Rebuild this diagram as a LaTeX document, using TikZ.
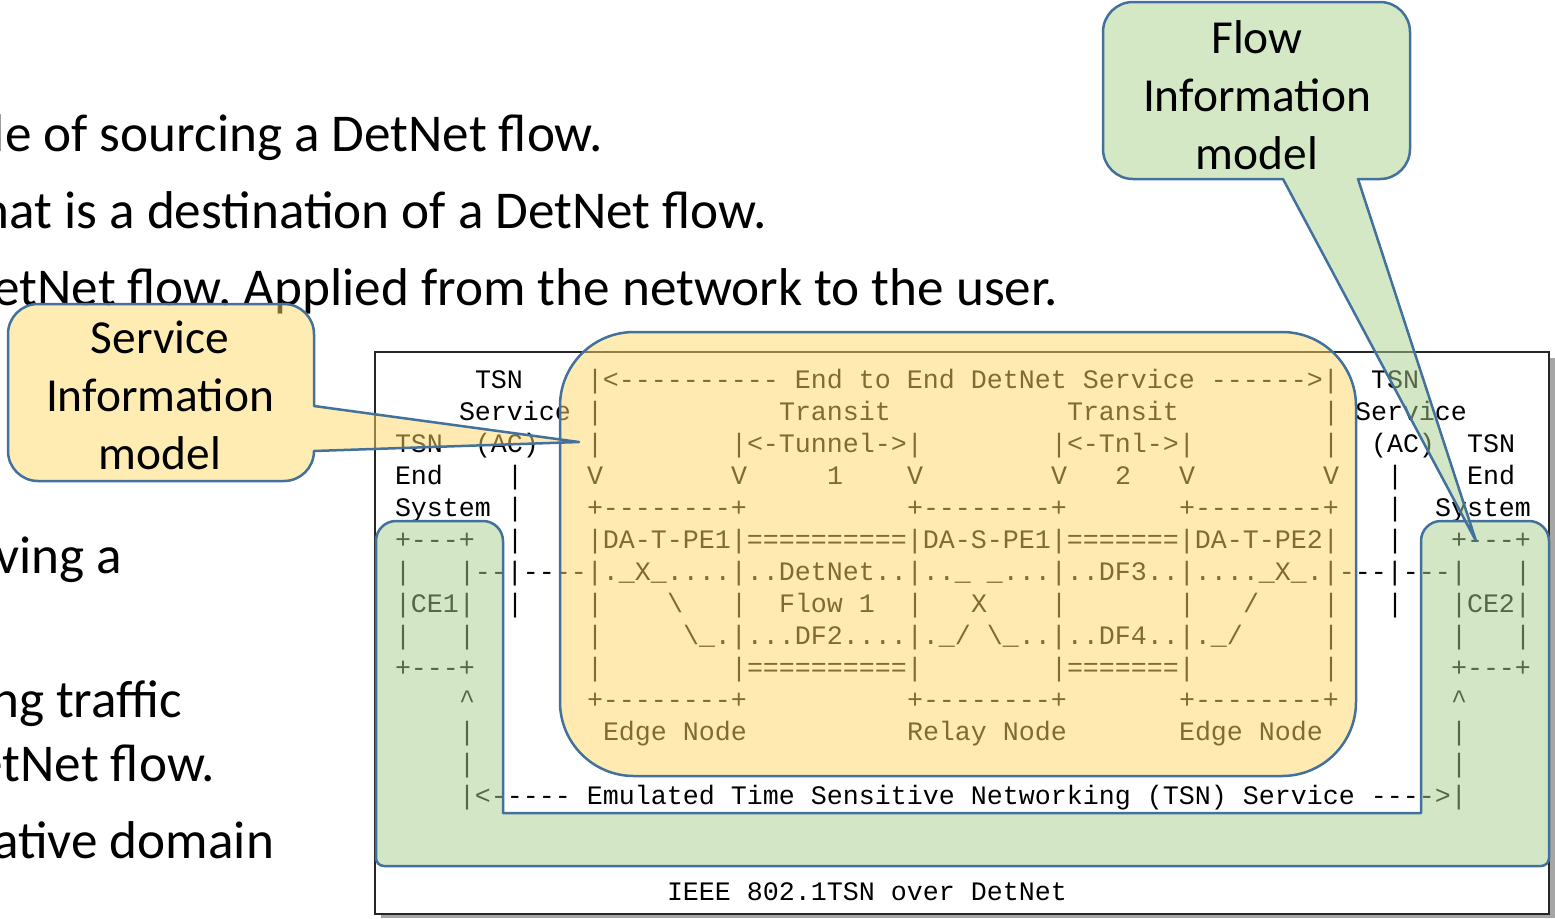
\documentclass[tikz,border=0pt]{standalone}
\usepackage{fontspec}
\setmainfont{Carlito}
\setmonofont{Liberation Mono}
\frenchspacing
\definecolor{ovyellow}{HTML}{FFD966}
\definecolor{ovgreen}{HTML}{A9D18E}
\definecolor{ovblue}{HTML}{41719C}
\definecolor{shadowgray}{HTML}{A6A6A6}
\newcommand\Asc[3]{\node[asc] (a#1x#2) at ({395+16*#2},{388+32*#1}) {#3};}
\begin{document}
\begin{tikzpicture}[x=0.5pt,y=-0.5pt,
  asc/.style={font=\ttfamily\fontsize{13.33}{16}\selectfont, anchor=base west, inner sep=0pt, outer sep=0pt},
  bodytext/.style={font=\fontsize{26.6}{32}\selectfont, anchor=base east, inner sep=0pt, outer sep=0pt},
  calltext/.style={font=\fontsize{23.7}{29}\selectfont, anchor=base, inner sep=0pt, outer sep=0pt},
  ovshape/.style={draw=ovblue, line width=1.25pt, fill opacity=0.5, line join=round}]
\useasboundingbox (0,0) rectangle (1555,918);
\path[clip] (0,0) rectangle (1555,918);
% slide text behind
\node[bodytext] (b1) at (603,151) {le of sourcing a DetNet flow.};
\node[bodytext] (b2) at (767,228) {hat is a destination of a DetNet flow.};
\node[bodytext] (b3) at (1058,305) {etNet flow. Applied from the network to the user.};
\node[bodytext] (b4) at (122,573) {ving a};
\node[bodytext] (b5) at (182,717) {ng traffic};
\node[bodytext] (b6) at (215,781) {etNet flow.};
\node[bodytext] (b7) at (274,858) {ative domain};
% frame
\fill[shadowgray] (381,358) rectangle (1555,918);
\draw[fill=white, draw=black!85, line width=0.75pt] (375,352) rectangle (1549,914);
% ascii art
\Asc{0}{5}{TSN}
\Asc{0}{12}{|<---------- End to End DetNet Service ------>|}
\Asc{0}{61}{TSN}
\Asc{1}{4}{Service}
\Asc{1}{12}{|}
\Asc{1}{24}{Transit}
\Asc{1}{42}{Transit}
\Asc{1}{58}{|}
\Asc{1}{60}{Service}
\Asc{2}{0}{TSN}
\Asc{2}{5}{(AC)}
\Asc{2}{12}{|}
\Asc{2}{21}{|<-Tunnel->|}
\Asc{2}{41}{|<-Tnl->|}
\Asc{2}{58}{|}
\Asc{2}{61}{(AC)}
\Asc{2}{67}{TSN}
\Asc{3}{0}{End}
\Asc{3}{7}{|}
\Asc{3}{12}{V}
\Asc{3}{21}{V}
\Asc{3}{27}{1}
\Asc{3}{32}{V}
\Asc{3}{41}{V}
\Asc{3}{45}{2}
\Asc{3}{49}{V}
\Asc{3}{58}{V}
\Asc{3}{62}{|}
\Asc{3}{67}{End}
\Asc{4}{0}{System}
\Asc{4}{7}{|}
\Asc{4}{12}{+--------+}
\Asc{4}{32}{+--------+}
\Asc{4}{49}{+--------+}
\Asc{4}{62}{|}
\Asc{4}{65}{System}
\Asc{5}{0}{+---+}
\Asc{5}{7}{|}
\Asc{5}{12}{|DA-T-PE1|==========|DA-S-PE1|=======|DA-T-PE2|}
\Asc{5}{62}{|}
\Asc{5}{66}{+---+}
\Asc{6}{0}{|}
\Asc{6}{4}{|--|----|.\_X\_....|..DetNet..|..\_ \_...|..DF3..|....\_X\_.|---|---|}
\Asc{6}{70}{|}
\Asc{7}{0}{|CE1|}
\Asc{7}{7}{|}
\Asc{7}{12}{|}
\Asc{7}{17}{\textbackslash}
\Asc{7}{21}{|}
\Asc{7}{24}{Flow 1}
\Asc{7}{32}{|}
\Asc{7}{36}{X}
\Asc{7}{41}{|}
\Asc{7}{49}{|}
\Asc{7}{53}{/}
\Asc{7}{58}{|}
\Asc{7}{62}{|}
\Asc{7}{66}{|CE2|}
\Asc{8}{0}{|}
\Asc{8}{4}{|}
\Asc{8}{12}{|}
\Asc{8}{18}{\textbackslash\_.|...DF2....|.\_/ \textbackslash\_..|..DF4..|.\_/}
\Asc{8}{58}{|}
\Asc{8}{66}{|}
\Asc{8}{70}{|}
\Asc{9}{0}{+---+}
\Asc{9}{12}{|}
\Asc{9}{21}{|==========|}
\Asc{9}{41}{|=======|}
\Asc{9}{58}{|}
\Asc{9}{66}{+---+}
\Asc{10}{4}{\textasciicircum}
\Asc{10}{12}{+--------+}
\Asc{10}{32}{+--------+}
\Asc{10}{49}{+--------+}
\Asc{10}{66}{\textasciicircum}
\Asc{11}{4}{|}
\Asc{11}{13}{Edge Node}
\Asc{11}{32}{Relay Node}
\Asc{11}{49}{Edge Node}
\Asc{11}{66}{|}
\Asc{12}{4}{|}
\Asc{12}{66}{|}
\Asc{13}{4}{|<----- Emulated Time Sensitive Networking (TSN) Service ---->|}
\Asc{16}{17}{IEEE 802.1TSN over DetNet}
% green U overlay
\path[ovshape, fill=ovgreen] (376,541) arc[start angle=180,end angle=270,radius=20] -- (483,521)
  arc[start angle=270,end angle=360,radius=20] -- (503,813) -- (1421,813) -- (1421,541)
  arc[start angle=180,end angle=270,radius=20] -- (1529,521)
  arc[start angle=270,end angle=360,radius=20] -- (1549,858)
  arc[start angle=0,end angle=90,radius=8] -- (384,866)
  arc[start angle=90,end angle=180,radius=8] -- cycle;
% yellow service overlay
\path[ovshape, fill=ovyellow, rounded corners=37pt] (560,332) rectangle (1356,776);
% service callout
\coordinate (stip) at (579,442);
\path[ovshape, fill=ovyellow] (8,334) arc[start angle=180,end angle=270,radius=30] -- (284,304)
  arc[start angle=270,end angle=360,radius=30] -- (314,406) -- (stip) -- (314,451)
  arc[start angle=0,end angle=90,radius=30] -- (38,481)
  arc[start angle=90,end angle=180,radius=30] -- cycle;
\node[calltext] (s1) at (160,353) {Service};
\node[calltext] (s2) at (160,411) {Information};
\node[calltext] (s3) at (160,469) {model};
% flow callout
\coordinate (ftip) at (1476,541);
\path[ovshape, fill=ovgreen] (1103,32) arc[start angle=180,end angle=270,radius=30] -- (1380,2)
  arc[start angle=270,end angle=360,radius=30] -- (1410,149)
  arc[start angle=0,end angle=90,radius=30] -- (1358,179) -- (ftip) -- (1283,179) -- (1133,179)
  arc[start angle=90,end angle=180,radius=30] -- cycle;
\node[calltext] (f1) at (1257,53) {Flow};
\node[calltext] (f2) at (1257,111) {Information};
\node[calltext] (f3) at (1257,169) {model};
\end{tikzpicture}
\end{document}
